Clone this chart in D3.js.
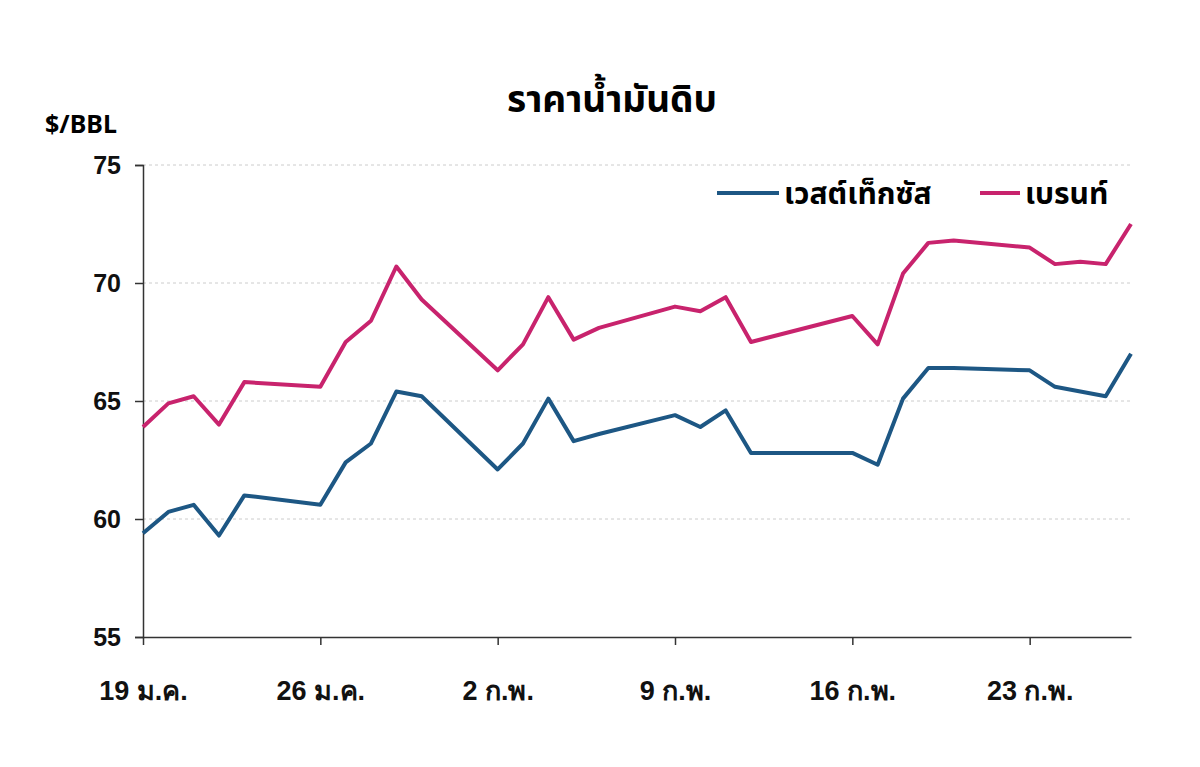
<!DOCTYPE html>
<html><head><meta charset="utf-8">
<script src="https://cdn.jsdelivr.net/npm/d3@7"></script>
<style>body{margin:0;background:#fff;font-family:"Noto Sans","Noto Sans Thai",sans-serif}</style>
</head><body><svg id="c" width="1200" height="767"></svg>
<script>
const days = [0,1,2,3,4,7,8,9,10,11,14,15,16,17,18,21,22,23,24,28,29,30,31,32,35,36,37,38,39];
const wti  = [59.4,60.3,60.6,59.3,61.0,60.6,62.4,63.2,65.4,65.2,62.1,63.2,65.1,63.3,63.6,64.4,63.9,64.6,62.8,62.8,62.3,65.1,66.4,66.4,66.3,65.6,65.4,65.2,67.0];
const brent= [63.9,64.9,65.2,64.0,65.8,65.6,67.5,68.4,70.7,69.3,66.3,67.4,69.4,67.6,68.1,69.0,68.8,69.4,67.5,68.6,67.4,70.4,71.7,71.8,71.5,70.8,70.9,70.8,72.5];
const tickDays = [0,7,14,21,28,35];
const tickLabels = ["19 ม.ค.","26 ม.ค.","2 ก.พ.","9 ก.พ.","16 ก.พ.","23 ก.พ."];
const yTicks = [55,60,65,70,75];
const seriesNames = ["เวสต์เท็กซัส","เบรนท์"];
const colors = ["#1d5784","#c8236d"];

const svg = d3.select("#c");
const x = d3.scaleLinear().domain([0,39]).range([143,1131]);
const y = d3.scaleLinear().domain([55,75]).range([637,165]);

svg.append("g").selectAll("line").data(yTicks.slice(1)).join("line")
  .attr("x1",143).attr("x2",1131).attr("y1",d=>y(d)).attr("y2",d=>y(d))
  .attr("stroke","#ccc").attr("stroke-dasharray","3,3");

const ya = svg.append("g").attr("transform","translate(143,0)")
  .call(d3.axisLeft(y).tickValues(yTicks).tickSize(8).tickPadding(14));
ya.selectAll("text").attr("font-size",25).attr("font-weight","bold").attr("fill","#111");
ya.selectAll("path,line").attr("stroke","#333").attr("stroke-width",1.5);

const xa = svg.append("g").attr("transform","translate(0,637)")
  .call(d3.axisBottom(x).tickValues(tickDays).tickFormat((d,i)=>tickLabels[i]).tickSize(8).tickPadding(36).tickSizeOuter(0));
xa.selectAll("text").attr("font-size",27).attr("font-weight","bold").attr("fill","#111");
xa.selectAll("path,line").attr("stroke","#333").attr("stroke-width",1.5);

const line = d3.line().x((d,i)=>x(days[i])).y(d=>y(d));
[wti,brent].forEach((s,k)=>{
  svg.append("path").attr("d",line(s)).attr("fill","none")
    .attr("stroke",colors[k]).attr("stroke-width",4).attr("stroke-linejoin","round");
});

svg.append("text").attr("x",612).attr("y",112).attr("text-anchor","middle")
  .attr("font-size",37).attr("font-weight","bold").text("ราคาน้ำมันดิบ");
svg.append("text").attr("x",45).attr("y",133).attr("font-size",25).attr("font-weight","bold").text("$/BBL");

const lg = [[717,62,seriesNames[0]],[980,40,seriesNames[1]]];
lg.forEach(([lx,w,t],k)=>{
  svg.append("line").attr("x1",lx).attr("x2",lx+w).attr("y1",193).attr("y2",193)
    .attr("stroke",colors[k]).attr("stroke-width",4);
  svg.append("text").attr("x",lx+w+5).attr("y",204).attr("font-size",30).attr("font-weight","bold").text(t);
});
</script></body></html>
